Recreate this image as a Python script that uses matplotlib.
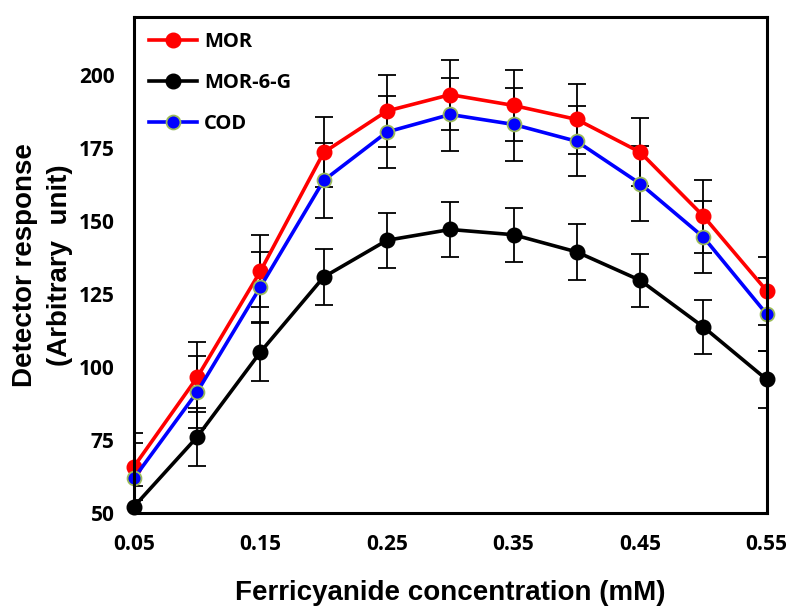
import matplotlib
matplotlib.use("Agg")
import matplotlib.pyplot as plt

x = [0.05, 0.10, 0.15, 0.20, 0.25, 0.30, 0.35, 0.40, 0.45, 0.50, 0.55]
mor = [65.9, 96.5, 132.9, 173.6, 187.8, 193.4, 189.7, 184.9, 173.7, 151.8, 126.2]
mor_err = [11.4, 12.0, 12.3, 12.0, 12.5, 12.0, 12.3, 12.0, 11.7, 12.5, 11.7]
mor6g = [52.2, 76.1, 105.2, 130.9, 143.5, 147.2, 145.4, 139.5, 129.8, 113.8, 95.8]
mor6g_err = [7.0, 10.0, 10.0, 9.5, 9.5, 9.3, 9.3, 9.6, 9.0, 9.3, 9.8]
cod = [61.9, 91.5, 127.5, 164.0, 180.6, 186.6, 183.2, 177.4, 162.9, 144.6, 118.2]
cod_err = [12.0, 12.3, 12.0, 12.7, 12.5, 12.6, 12.4, 12.0, 12.8, 12.2, 12.5]
xticks = [0.05, 0.15, 0.25, 0.35, 0.45, 0.55]
yticks = [50, 75, 100, 125, 150, 175, 200]

fig = plt.figure(figsize=(7.92, 6.08), dpi=100)
ax = fig.add_axes([0.169, 0.156, 0.799, 0.816])

for y, e in [(mor, mor_err), (mor6g, mor6g_err), (cod, cod_err)]:
    ax.errorbar(x, y, yerr=e, fmt='none', ecolor='black', elinewidth=1.3,
                capsize=6.5, capthick=1.3, zorder=2, clip_on=True)

ax.plot(x, mor, color='#FF0000', lw=2.6, marker='o', ms=10.5, mfc='#FF0000',
        mec='#FF0000', label='MOR', zorder=3, clip_on=False)
ax.plot(x, mor6g, color='black', lw=2.6, marker='o', ms=10.5, mfc='black',
        mec='black', label='MOR-6-G', zorder=3, clip_on=False)
ax.plot(x, cod, color='#0000FF', lw=2.6, marker='o', ms=10, mfc='#0000FF',
        mec='#9BBB59', mew=1.3, label='COD', zorder=4, clip_on=False)

ax.set_xlim(0.05, 0.55)
ax.set_ylim(50, 220)
ax.set_xticks(xticks)
ax.set_xticklabels([f"{t:.2f}" for t in xticks])
ax.set_yticks(yticks)
ax.tick_params(length=0, labelsize=15)
for lab in ax.get_xticklabels() + ax.get_yticklabels():
    lab.set_fontweight('bold')
    lab.set_family('Open Sans')
ax.tick_params(axis='x', pad=15)
ax.tick_params(axis='y', pad=14)

for s in ax.spines.values():
    s.set_linewidth(2.2)
    s.set_color('black')
    s.set_zorder(5)

ax.set_xlabel('Ferricyanide concentration (mM)', fontsize=20, fontweight='bold',
              family='Liberation Sans', labelpad=18)
ax.set_ylabel('Detector response\n(Arbitrary  unit)', fontsize=20, fontweight='bold',
              family='Liberation Sans', labelpad=4, linespacing=1.45)

leg = ax.legend(loc='upper left', frameon=False, handlelength=2.4,
                labelspacing=1.05, borderaxespad=0.35, handletextpad=0.35,
                prop={'family': 'Open Sans', 'weight': 'bold', 'size': 14.5})

fig.savefig('out.png', dpi=100)
